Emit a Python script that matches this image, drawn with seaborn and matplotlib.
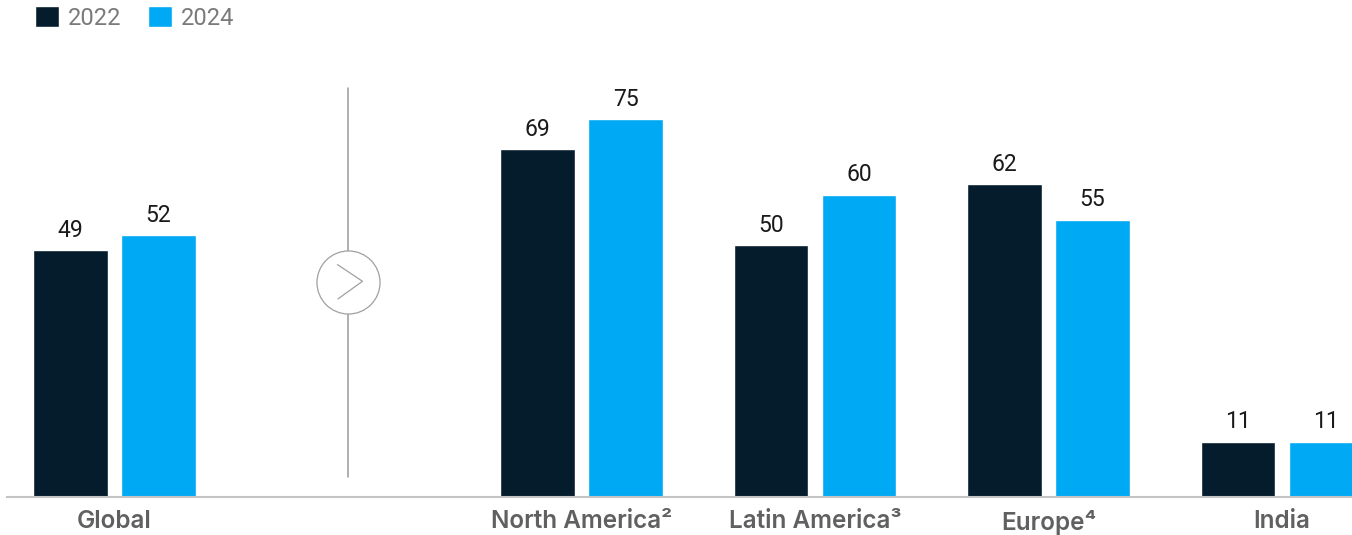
import matplotlib
matplotlib.use("Agg")
import matplotlib.pyplot as plt
import seaborn as sns
import pandas as pd

# ---- data ----
categories = ["Global", "North America²", "Latin America³", "Europe⁴", "India"]
years = ["2022", "2024"]
values_2022 = [49, 69, 50, 62, 11]
values_2024 = [52, 75, 60, 55, 11]

# slot order (blank slot holds the separator)
order = ["Global", " ", "North America²", "Latin America³", "Europe⁴", "India"]

df = pd.DataFrame({
    "category": categories * 2,
    "year": [years[0]] * len(categories) + [years[1]] * len(categories),
    "value": values_2022 + values_2024,
})

DARK = "#051c2c"
BLUE = "#00a9f4"

sns.set_theme(style="white")
plt.rcParams["font.family"] = ["Roboto", "DejaVu Sans"]

fig = plt.figure(figsize=(13.52, 5.35), dpi=100)
W, H = 1352, 535
ax = fig.add_axes([7 / W, 38 / H, 1345 / W, (497 - 60) / H])

sns.barplot(data=df, x="category", y="value", hue="year", order=order,
            hue_order=years, palette=[DARK, BLUE], width=0.754, gap=0.149,
            saturation=1, ax=ax, legend=True)

ax.set_xlim(-0.4604, 5.2998)
ax.set_ylim(0, 86.7)
ax.set_xlabel("")
ax.set_ylabel("")
ax.set_yticks([])
for s in ["top", "right", "left"]:
    ax.spines[s].set_visible(False)
ax.spines["bottom"].set_color("#c4c4c4")
ax.spines["bottom"].set_linewidth(1.5)
ax.tick_params(axis="x", length=0, pad=9.5)
for lbl in ax.get_xticklabels():
    lbl.set_fontfamily(["Inter", "DejaVu Sans"])
    lbl.set_fontweight("semibold")
    lbl.set_fontsize(17.5)
    lbl.set_color("#606060")

for cont in ax.containers:
    ax.bar_label(cont, fmt="%d", padding=6, fontsize=16.5, color="#1a1a1a")

# separator line with circled chevron
ax.plot([1, 1], [4.0, 81.2], color="#9a9a9a", lw=1.1, zorder=3)
ax.plot([1], [42.66], marker="o", ms=45.4, mfc="white", mec="#a0a0a0",
        mew=0.9, zorder=4, clip_on=False)
ax.plot([0.955, 1.062, 0.957], [46.1, 42.8, 39.3], color="#a0a0a0", lw=0.9,
        zorder=5)

# legend
handles, labels = ax.get_legend_handles_labels()
ax.get_legend().remove()
leg = fig.legend(handles, labels, loc="upper left",
                 bbox_to_anchor=(35 / W, 1 - 6 / H), ncol=2, frameon=False,
                 fontsize=17, handlelength=1.0, handleheight=1.0,
                 handletextpad=0.38, columnspacing=1.14, borderpad=0,
                 borderaxespad=0)
for t in leg.get_texts():
    t.set_color("#7a7a7a")

fig.savefig("out.png", dpi=100)
